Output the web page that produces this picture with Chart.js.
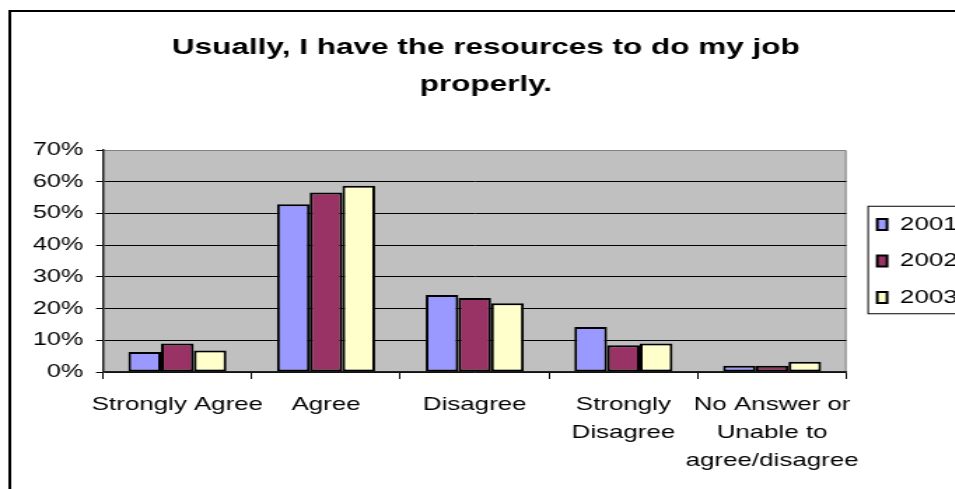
<!DOCTYPE html>
<html>
<head>
<meta charset="utf-8">
<script src="https://cdn.jsdelivr.net/npm/chart.js@4/dist/chart.umd.min.js"></script>
<style>
  html, body { margin: 0; padding: 0; background: #fff; overflow: hidden; }
  /* the original picture is stretched sideways, so draw narrow and scale */
  #wrap { width: 700px; height: 489px; transform: scaleX(1.4); transform-origin: 0 0; }
</style>
</head>
<body>
<div id="wrap"><canvas id="surveyChart" width="700" height="489"></canvas></div>
<script>
// Survey: "Usually, I have the resources to do my job properly."
const categories = [
  'Strongly Agree',
  'Agree',
  'Disagree',
  ['Strongly', 'Disagree'],
  ['No Answer or', 'Unable to', 'agree/disagree']
];
const years = ['2001', '2002', '2003'];
const values2001 = [6.3, 52.9, 24.3, 14.2, 2.0];
const values2002 = [9.0, 56.6, 23.3, 8.4, 2.0];
const values2003 = [6.8, 58.7, 21.7, 9.0, 3.2];
const yTicks = [0, 10, 20, 30, 40, 50, 60, 70];
const colors = ['#9999FF', '#993366', '#FFFFCC'];

const font = 'Liberation Sans, Arial, sans-serif';

// grey plot background, outer frame and legend box
const frame = {
  id: 'frame',
  beforeDraw(chart) {
    const c = chart.ctx;
    const a = chart.chartArea;
    c.save();
    c.fillStyle = '#C0C0C0';
    c.fillRect(a.left, a.top, a.right - a.left, a.bottom - a.top);
    c.strokeStyle = '#808080';
    c.lineWidth = 1;
    c.beginPath();
    c.moveTo(a.left, a.top + 0.5);
    c.lineTo(a.right - 0.5, a.top + 0.5);
    c.lineTo(a.right - 0.5, a.bottom);
    c.stroke();
    c.strokeStyle = '#000';
    c.lineWidth = 2;
    c.strokeRect(7, 11, 900, 700);
    c.restore();
  },
  afterDraw(chart) {
    const lg = chart.legend;
    if (!lg || !lg.legendHitBoxes.length) return;
    const boxes = lg.legendHitBoxes;
    const first = boxes[0];
    const last = boxes[boxes.length - 1];
    const c = chart.ctx;
    c.save();
    c.strokeStyle = '#000';
    c.lineWidth = 1;
    c.strokeRect(first.left - 6.5, first.top - 9, 120, last.top + last.height - first.top + 16);
    c.restore();
  }
};

const datasets = [values2001, values2002, values2003].map((vals, i) => ({
  label: years[i],
  data: vals,
  backgroundColor: colors[i],
  borderColor: '#000',
  borderWidth: 2,
  borderSkipped: false,
  categoryPercentage: 0.66,
  barPercentage: 1
}));

new Chart(document.getElementById('surveyChart').getContext('2d'), {
  type: 'bar',
  data: { labels: categories, datasets: datasets },
  plugins: [frame],
  options: {
    responsive: false,
    devicePixelRatio: 1,
    animation: false,
    layout: { padding: { left: 0, right: 6, top: 11, bottom: 0 } },
    plugins: {
      title: {
        display: true,
        text: ['Usually, I have the resources to do my job', 'properly.'],
        color: '#000',
        font: { family: font, size: 22.5, weight: 'bold', lineHeight: 37 / 22.5 },
        padding: { top: 18.5, bottom: 46.5 }
      },
      legend: {
        position: 'right',
        align: 'center',
        fullSize: false,
        labels: {
          color: '#000',
          font: { family: font, size: 18.5 },
          boxWidth: 7,
          boxHeight: 11,
          padding: 18
        }
      },
      tooltip: { enabled: false }
    },
    scales: {
      x: {
        offset: true,
        grid: {
          offset: true,
          drawOnChartArea: false,
          drawTicks: true,
          tickLength: 7,
          color: '#000'
        },
        border: { color: '#222', width: 1.5 },
        ticks: {
          color: '#000',
          font: { family: font, size: 18.5, lineHeight: 28 / 18.5 },
          padding: 12,
          maxRotation: 0,
          autoSkip: false
        },
        afterFit(s) { s.height = 117; }
      },
      y: {
        min: 0,
        max: 70,
        afterBuildTicks(s) { s.ticks = yTicks.map(v => ({ value: v })); },
        grid: {
          color: ctx => (ctx.tick && ctx.tick.value === 70 ? 'rgba(0,0,0,0)' : '#000'),
          tickColor: '#000',
          tickLength: 5,
          lineWidth: 1
        },
        border: { color: '#222', width: 1.5 },
        ticks: {
          color: '#000',
          font: { family: font, size: 18 },
          padding: 9,
          callback: v => v + '%'
        },
        afterFit(s) { s.width = 73.6; }
      },
      // empty spacer between the plot and the legend
      gap: {
        position: 'right',
        display: true,
        grid: { display: false },
        border: { display: false },
        ticks: { display: false },
        afterFit(s) { s.width = 4; }
      }
    }
  }
});
</script>
</body>
</html>
